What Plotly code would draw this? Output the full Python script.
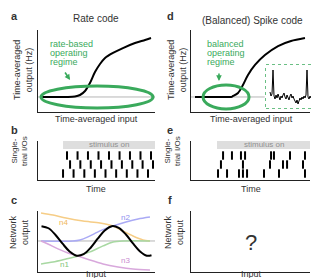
import plotly.graph_objects as go

W, H = 319, 278
FONT = "Liberation Sans, Arial, Helvetica, sans-serif"
GREEN = "#3aaa5c"
AX = "#222222"
TXT = "#333333"

# ---------------- data ----------------
# panel a: rate code input-output curve
a_x = [0.26, 2.56, 3.16, 3.59, 4.02, 4.44, 4.87, 5.30, 5.73, 6.41, 7.26, 8.29, 9.15, 9.66]
a_y = [0.0, 0.0, 0.05, 0.2, 0.61, 1.42, 2.54, 3.36, 3.97, 4.48, 4.98, 5.49, 5.80, 6.0]
# panel d: spike code input-output curve
d_x = [0.34, 2.74, 3.42, 3.59, 4.02, 4.44, 4.87, 5.47, 6.32, 7.44, 8.55, 9.74]
d_y = [0.0, 0.0, 0.0, 0.1, 0.41, 1.22, 2.24, 3.26, 4.27, 5.19, 5.70, 6.0]
# inset: membrane trace (ms, mV)
v_t = list(range(53))
v_mv = [-61, -65, -63, -39, -65, -68, -64, -67, -63, -66, -69, -65, -67, -64, -62, -66,
        -68, -64, -66, -69, -65, -63, -67, -65, -68, -70, -72, -69, -73, -70, -67, -69,
        -66, -68, -65, -67, -64, -39, -66, -68, -65, -67, -63, -66, -64, -39, -67, -65,
        -63, -66, -64, -67, -68]
# panel b: regular spike times per trial
b_trials = [
    [2.48, 3.38, 4.27, 5.17, 6.07, 6.97, 7.86, 8.76, 9.66],
    [2.74, 3.62, 4.51, 5.39, 6.28, 7.17, 8.06, 8.94, 9.83],
    [2.14, 3.04, 3.96, 4.86, 5.77, 6.68, 7.59, 8.50, 9.40],
]
# panel e: irregular spike times per trial
e_trials = [
    [2.74, 3.50, 4.27, 4.62, 6.84, 7.09, 8.46, 9.74],
    [2.56, 4.44, 6.75, 7.86, 8.21, 9.57],
    [2.31, 3.08, 4.10, 4.44, 4.79, 6.24, 7.52, 9.74],
]
# panel c: network output and neuron contributions
c_x = [0.3, 0.9, 1.5, 2.1, 2.7, 3.3, 3.9, 4.5, 5.1, 5.7, 6.3, 6.9, 7.5, 8.1, 8.7, 9.3, 9.7]
c_out = [0.99, 0.85, 0.40, -0.18, -0.70, -0.98, -0.88, -0.45, 0.15, 0.70, 0.99, 0.88,
         0.45, -0.15, -0.68, -0.98, -0.95]
n4_x = [0.26, 1.28, 2.39, 3.85, 5.30, 6.41, 7.26, 8.12, 8.97, 9.57]
n4_y = [1.87, 1.73, 1.53, 1.33, 1.2, 1.0, 0.67, 0.33, 0.07, 0.0]
n2_x = [0.26, 2.99, 3.59, 4.27, 5.30, 6.41, 7.52, 8.55, 9.57]
n2_y = [0.0, 0.0, 0.07, 0.27, 0.67, 1.0, 1.27, 1.47, 1.6]
n1_x = [0.26, 1.28, 2.39, 3.42, 4.44, 5.56, 6.41, 7.26, 9.57]
n1_y = [-1.53, -1.4, -1.2, -1.0, -0.73, -0.33, -0.07, 0.0, 0.0]
n3_x = [0.26, 0.85, 1.71, 2.56, 3.42, 4.44, 5.56, 6.84, 8.12, 9.57]
n3_y = [0.0, -0.2, -0.53, -0.8, -1.0, -1.27, -1.53, -1.73, -1.87, -1.93]
neurons = [("n4", n4_x, n4_y, "#f6cd86"), ("n2", n2_x, n2_y, "#aaaaf5"),
           ("n1", n1_x, n1_y, "#a8d8a2"), ("n3", n3_x, n3_y, "#d8a8dc")]


def xf(px):
    return px / W


def yf(py):
    return 1 - py / H


fig = go.Figure()

# ---- traces ----
fig.add_trace(go.Scatter(x=a_x, y=a_y, mode="lines", line=dict(color="black", width=2, shape="spline", smoothing=0.8),
                         xaxis="x", yaxis="y"))
fig.add_trace(go.Scatter(x=d_x, y=d_y, mode="lines", line=dict(color="black", width=2, shape="spline", smoothing=0.8),
                         xaxis="x2", yaxis="y2"))
fig.add_trace(go.Scatter(x=v_t, y=v_mv, mode="lines", line=dict(color="black", width=1),
                         xaxis="x7", yaxis="y7"))

for i, times in enumerate(b_trials):
    fig.add_trace(go.Scatter(x=times, y=[3 - i] * len(times), mode="markers",
                             marker=dict(symbol="line-ns", size=6, line=dict(width=2, color="black")),
                             xaxis="x3", yaxis="y3"))
for i, times in enumerate(e_trials):
    fig.add_trace(go.Scatter(x=times, y=[3 - i] * len(times), mode="markers",
                             marker=dict(symbol="line-ns", size=6, line=dict(width=2, color="black")),
                             xaxis="x4", yaxis="y4"))

for name, xs, ys, col in neurons:
    fig.add_trace(go.Scatter(x=xs, y=ys, mode="lines", line=dict(color=col, width=1.5, shape="spline", smoothing=0.8),
                             xaxis="x5", yaxis="y5"))
fig.add_trace(go.Scatter(x=c_x, y=c_out, mode="lines", line=dict(color="black", width=2, shape="spline"),
                         xaxis="x5", yaxis="y5"))

# ---- axes ----
def axis_common(**kw):
    d = dict(showgrid=False, zeroline=False, showticklabels=False, ticks="", fixedrange=True,
             showline=True, linecolor=AX, linewidth=1)
    d.update(kw)
    return d

rowA = [yf(104), yf(22)]
rowB = [yf(172), yf(133)]
rowC = [yf(264), yf(203)]
colL = [xf(30), xf(147)]
colR = [xf(183), xf(302)]

layout_axes = dict(
    xaxis=axis_common(domain=colL, range=[0, 10], anchor="y"),
    yaxis=axis_common(domain=rowA, range=[-1.53, 6.82], anchor="x"),
    xaxis2=axis_common(domain=colR, range=[0, 10.17], anchor="y2"),
    yaxis2=axis_common(domain=rowA, range=[-1.53, 6.82], anchor="x2"),
    xaxis3=axis_common(domain=colL, range=[0, 10], anchor="y3"),
    yaxis3=axis_common(domain=rowB, range=[0.28, 4.61], anchor="x3"),
    xaxis4=axis_common(domain=colR, range=[0, 10.17], anchor="y4"),
    yaxis4=axis_common(domain=rowB, range=[0.28, 4.61], anchor="x4"),
    xaxis5=axis_common(domain=colL, range=[0, 10], anchor="y5"),
    yaxis5=axis_common(domain=rowC, range=[-2.07, 2.0], anchor="x5"),
    xaxis6=axis_common(domain=colR, range=[0, 10.17], anchor="y6"),
    yaxis6=axis_common(domain=rowC, range=[-2.07, 2.0], anchor="x6"),
    xaxis7=axis_common(domain=[xf(258), xf(316)], range=[-4, 54], anchor="y7", showline=False),
    yaxis7=axis_common(domain=[yf(100), yf(57)], range=[-77, -34], anchor="x7", showline=False),
)

shapes = []
# baselines
shapes.append(dict(type="line", xref="x domain", yref="y", x0=0, x1=1, y0=0, y1=0,
                   line=dict(color="#b5b5b5", width=1), layer="below"))
shapes.append(dict(type="line", xref="x2 domain", yref="y2", x0=0, x1=0.62, y0=0, y1=0,
                   line=dict(color="#b5b5b5", width=1), layer="below"))
shapes.append(dict(type="line", xref="x5 domain", yref="y5", x0=0, x1=1, y0=0, y1=0,
                   line=dict(color="#b5b5b5", width=1), layer="below"))
# operating regime ellipses
shapes.append(dict(type="circle", xref="x", yref="y", x0=0.26, x1=9.83, y0=-1.12, y1=1.12,
                   line=dict(color=GREEN, width=3)))
shapes.append(dict(type="circle", xref="x2", yref="y2", x0=1.03, x1=4.96, y0=-1.22, y1=1.22,
                   line=dict(color=GREEN, width=3)))
# inset box
shapes.append(dict(type="rect", xref="x7 domain", yref="y7 domain", x0=0, x1=1, y0=0, y1=1,
                   line=dict(color=GREEN, width=1.5, dash="dot"), fillcolor="white", layer="below"))
# stimulus bars
shapes.append(dict(type="rect", xref="x3", yref="y3", x0=2.14, x1=10, y0=3.72, y1=4.61,
                   line=dict(width=0), fillcolor="#dedede", layer="below"))
shapes.append(dict(type="rect", xref="x4", yref="y4", x0=2.22, x1=10.17, y0=3.72, y1=4.61,
                   line=dict(width=0), fillcolor="#dedede", layer="below"))

ann = []


def text(x, y, s, size=9, color=TXT, angle=0, xanchor="center", xref="paper", yref="paper", shift=2):
    a = dict(x=x, y=y, xref=xref, yref=yref, text=s, showarrow=False,
             font=dict(family=FONT, size=size, color=color), textangle=angle,
             xanchor=xanchor, yanchor="middle", align="center")
    if angle == 0:
        a["yshift"] = shift
    else:
        a["xshift"] = -shift
    ann.append(a)

# panel letters
for s, px, py in [("a", 6, 9), ("d", 162, 9), ("b", 6, 123), ("e", 162, 123), ("c", 6, 193), ("f", 162, 193)]:
    text(xf(px), yf(py), "<b>%s</b>" % s, size=11, shift=1)
# titles
text(xf(88), yf(12), "Rate code", size=10, shift=1)
text(xf(244), yf(13), "(Balanced) Spike code", size=10, shift=1)
# axis labels
text(xf(17), yf(62), "Time-averaged<br>output (Hz)", size=9, angle=-90)
text(xf(171), yf(62), "Time-averaged<br>output (Hz)", size=9, angle=-90)
text(xf(88), yf(113), "Time-averaged input", size=9)
text(xf(243), yf(113), "Time-averaged input", size=9)
text(xf(13), yf(143), "Single-<br>trial I/Os", size=8, angle=-90)
text(xf(166), yf(143), "Single-<br>trial I/Os", size=8, angle=-90)
text(xf(88), yf(183), "Time", size=9)
text(xf(243), yf(183), "Time", size=9)
text(xf(13), yf(224), "Network<br>output", size=9, angle=-90)
text(xf(168), yf(224), "Network<br>output", size=9, angle=-90)
text(xf(88), yf(269), "Input", size=9, shift=3)
text(xf(243), yf(269), "Input", size=9, shift=3)
# green regime labels
for i, s in enumerate(["rate-based", "operating", "regime"]):
    text(xf(40), yf(38 + 9 * i), s, size=9, color=GREEN, xanchor="left")
for i, s in enumerate(["balanced", "operating", "regime"]):
    text(xf(197), yf(38 + 9 * i), s, size=9, color=GREEN, xanchor="left")
# stimulus labels
text(6.07, 4.17, "stimulus on", size=8, color="#909090", xref="x3", yref="y3", shift=0)
text(6.2, 4.17, "stimulus on", size=8, color="#909090", xref="x4", yref="y4", shift=0)
# neuron labels
text(2.2, 1.2, "n4", size=8, color="#f0b75a", xref="x5", yref="y5", shift=0)
text(7.5, 1.6, "n2", size=8, color="#8f8ff0", xref="x5", yref="y5", shift=0)
text(2.3, -1.6, "n1", size=8, color="#7fc47a", xref="x5", yref="y5", shift=0)
text(7.5, -1.33, "n3", size=8, color="#c98bd0", xref="x5", yref="y5", shift=0)
# question mark
text(5.09, -0.1, "?", size=22, xref="x6", yref="y6", shift=0)
# arrows
ann.append(dict(x=2.74, y=1.73, xref="x", yref="y", ax=-6, ay=-9, text="", showarrow=True,
                arrowhead=2, arrowsize=0.7, arrowwidth=1.6, arrowcolor=GREEN))
ann.append(dict(x=2.39, y=1.63, xref="x2", yref="y2", ax=0, ay=-9, text="", showarrow=True,
                arrowhead=2, arrowsize=0.7, arrowwidth=1.6, arrowcolor=GREEN))

fig.update_layout(width=W, height=H, margin=dict(l=0, r=0, t=0, b=0),
                  paper_bgcolor="white", plot_bgcolor="white", showlegend=False,
                  shapes=shapes, annotations=ann, font=dict(family=FONT), **layout_axes)

fig.write_html("out.html")
